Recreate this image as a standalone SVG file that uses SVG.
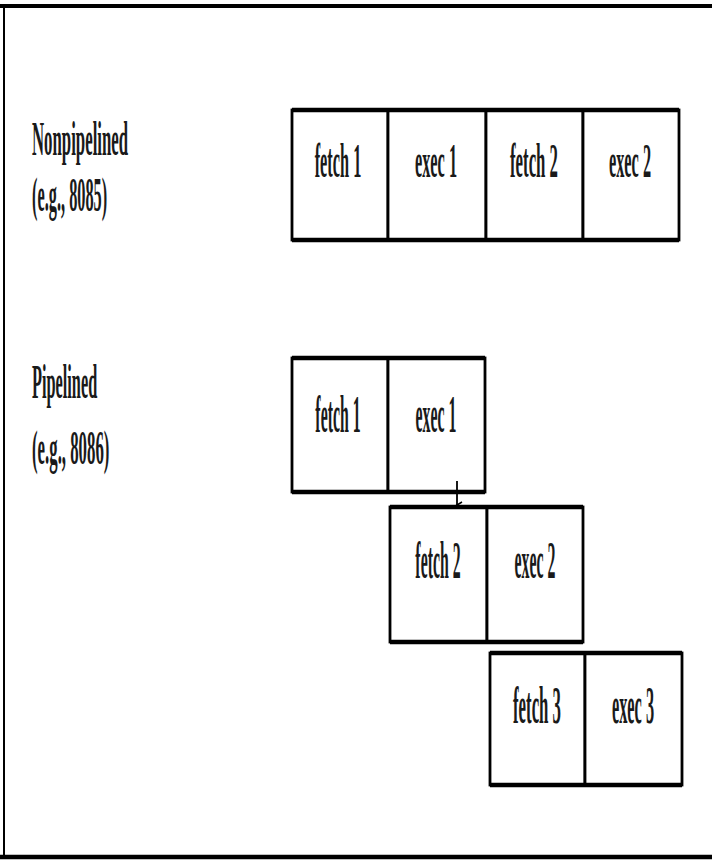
<svg xmlns="http://www.w3.org/2000/svg" width="712" height="865" viewBox="0 0 712 865">
<defs>
<style>
.cell{fill:#fff;stroke:#000;stroke-width:2.8}
.edge{stroke:#000;stroke-width:4.5;fill:none}
.t{font-family:"Liberation Serif","Times New Roman",serif;font-weight:bold;fill:#1a1a1a;text-anchor:middle;font-size:48px}
.lbl{font-family:"Liberation Serif","Times New Roman",serif;font-weight:bold;fill:#1a1a1a;font-size:48px}
.frame{stroke:#000;fill:none}
</style>
<marker id="ah" markerWidth="8" markerHeight="8" refX="4" refY="6" orient="auto" markerUnits="userSpaceOnUse">
<path d="M1,1 L4,6 L7,1" fill="none" stroke="#000" stroke-width="1.5"/>
</marker>
</defs>
<rect x="0" y="0" width="712" height="865" fill="#fff"/>
<g id="frame">
<line class="frame" x1="0" y1="6" x2="712" y2="6" stroke-width="4"/>
<line class="frame" x1="4" y1="6" x2="4" y2="857" stroke-width="2"/>
<line class="frame" x1="0" y1="857" x2="712" y2="857" stroke-width="4.5"/>
</g>
<g id="label-nonpipelined">
<text class="lbl" transform="translate(32,155) scale(0.35,1)">Nonpipelined</text>
<text class="lbl" transform="translate(32,211) scale(0.34,1)">(e.g., 8085)</text>
</g>
<g id="label-pipelined">
<text class="lbl" transform="translate(32,398) scale(0.34,1)">Pipelined</text>
<text class="lbl" transform="translate(32,464) scale(0.35,1)">(e.g., 8086)</text>
</g>
<g id="np-fetch1">
<rect class="cell" x="292" y="110" width="96" height="130"/>
<text class="t" transform="translate(338,177) scale(0.34,1)">fetch 1</text>
</g>
<g id="np-exec1">
<rect class="cell" x="388" y="110" width="98" height="130"/>
<text class="t" transform="translate(436,177) scale(0.34,1)">exec 1</text>
</g>
<g id="np-fetch2">
<rect class="cell" x="486" y="110" width="97" height="130"/>
<text class="t" transform="translate(534,177) scale(0.35,1)">fetch 2</text>
</g>
<g id="np-exec2">
<rect class="cell" x="583" y="110" width="96" height="130"/>
<text class="t" transform="translate(630,177) scale(0.34,1)">exec 2</text>
</g>
<line class="edge" x1="292" y1="110" x2="679" y2="110"/>
<line class="edge" x1="292" y1="240" x2="679" y2="240"/>
<g id="p-fetch1">
<rect class="cell" x="292" y="358" width="96" height="134"/>
<text class="t" transform="translate(338,432) scale(0.33,1.1)">fetch 1</text>
</g>
<g id="p-exec1">
<rect class="cell" x="388" y="358" width="97" height="134"/>
<text class="t" transform="translate(436,432) scale(0.33,1.1)">exec 1</text>
</g>
<line class="edge" x1="292" y1="358" x2="485" y2="358"/>
<line class="edge" x1="292" y1="492" x2="485" y2="492"/>
<g id="p-fetch2">
<rect class="cell" x="390" y="507" width="97" height="135"/>
<text class="t" transform="translate(438,578) scale(0.33,1.1)">fetch 2</text>
</g>
<g id="p-exec2">
<rect class="cell" x="487" y="507" width="96" height="135"/>
<text class="t" transform="translate(535,578) scale(0.33,1.1)">exec 2</text>
</g>
<line class="edge" x1="390" y1="507" x2="583" y2="507"/>
<line class="edge" x1="390" y1="642" x2="583" y2="642"/>
<g id="p-fetch3">
<rect class="cell" x="490" y="653" width="95" height="132"/>
<text class="t" transform="translate(537,723) scale(0.35,1.1)">fetch 3</text>
</g>
<g id="p-exec3">
<rect class="cell" x="585" y="653" width="97" height="132"/>
<text class="t" transform="translate(633,723) scale(0.34,1.1)">exec 3</text>
</g>
<line class="edge" x1="490" y1="653" x2="682" y2="653"/>
<line class="edge" x1="490" y1="785" x2="682" y2="785"/>
<g id="connectors">
<line x1="457" y1="481" x2="457" y2="505" stroke="#000" stroke-width="1.8" marker-end="url(#ah)"/>
</g>
</svg>
